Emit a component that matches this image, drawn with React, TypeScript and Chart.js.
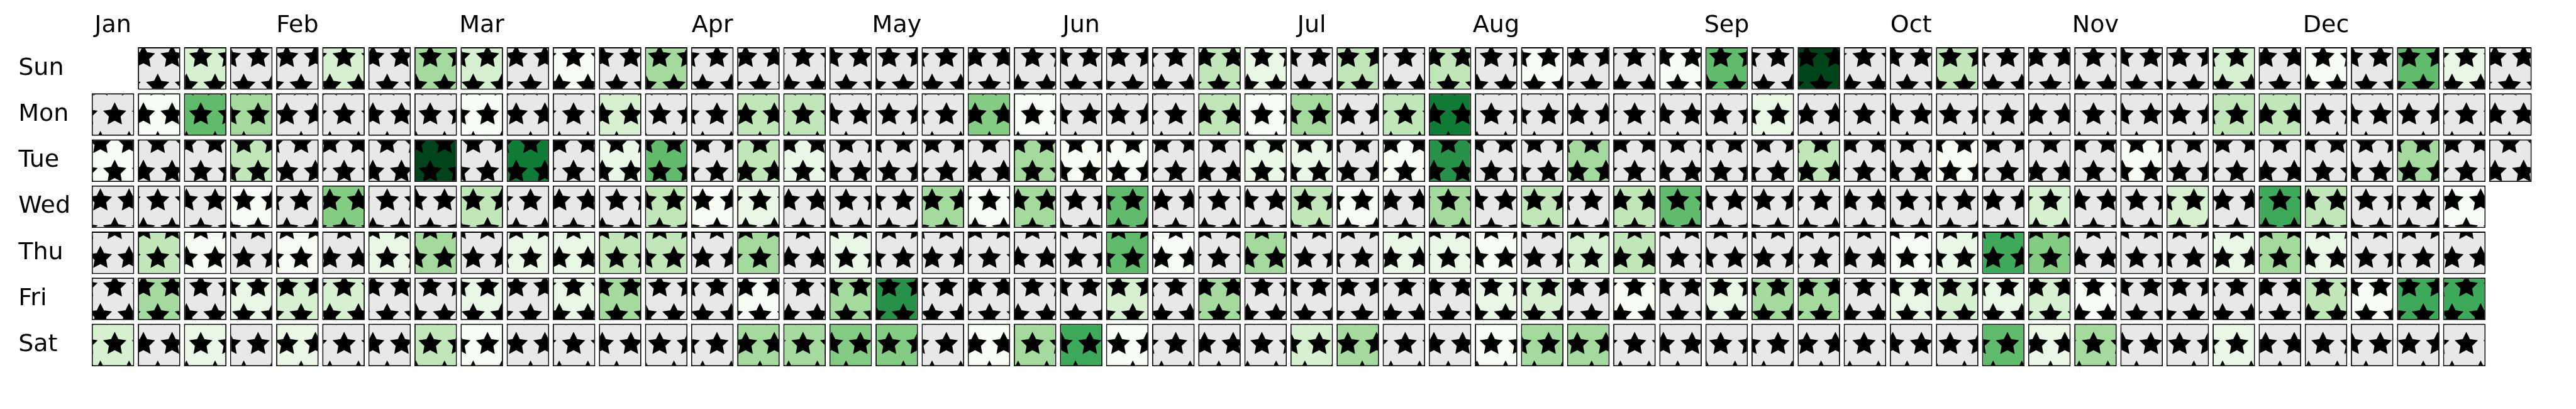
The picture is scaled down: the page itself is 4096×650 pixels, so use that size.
import React, { useEffect, useRef } from 'react';
import { Chart, registerables } from 'chart.js';

Chart.register(...registerables);

// ---------------- data ----------------
const YEAR = 2024;
const DAYS = ['Sun', 'Mon', 'Tue', 'Wed', 'Thu', 'Fri', 'Sat'];
const MONTHS = ['Jan', 'Feb', 'Mar', 'Apr', 'May', 'Jun', 'Jul', 'Aug', 'Sep', 'Oct', 'Nov', 'Dec'];

// One entry per week column (53). null = day outside the year, 0 = no value (grey cell)
const SUN = [null, 0, 3, 0, 0, 3, 0, 5, 3, 0, 1, 0, 5, 0, 0, 0, 0, 0, 0, 0, 0, 0, 0, 0, 4, 2, 0, 4, 0, 4, 0, 1, 0, 0, 1, 7, 0, 12, 0, 0, 4, 0, 0, 0, 0, 0, 3, 0, 1, 0, 7, 2, 0];
const MON = [0, 1, 7, 5, 0, 0, 0, 0, 1, 0, 0, 3, 0, 0, 4, 4, 0, 0, 0, 6, 1, 0, 0, 0, 4, 1, 5, 0, 4, 10, 0, 0, 0, 0, 0, 0, 2, 0, 0, 0, 0, 0, 0, 0, 0, 0, 4, 4, 0, 0, 0, 0, 0];
const TUE = [1, 0, 0, 4, 0, 0, 0, 12, 0, 10, 0, 2, 7, 0, 4, 2, 0, 0, 0, 0, 5, 1, 1, 0, 0, 2, 2, 0, 1, 9, 0, 0, 5, 0, 0, 0, 0, 4, 0, 0, 1, 0, 0, 0, 1, 0, 0, 0, 0, 0, 5, 0, 0];
const WED = [0, 0, 0, 1, 0, 6, 0, 0, 4, 0, 0, 0, 4, 1, 2, 0, 0, 0, 5, 1, 5, 0, 7, 0, 0, 0, 4, 1, 0, 5, 0, 4, 0, 4, 7, 0, 0, 0, 0, 0, 0, 0, 3, 0, 0, 3, 0, 8, 4, 0, 0, 1, null];
const THU = [0, 4, 1, 0, 1, 0, 2, 5, 0, 2, 2, 4, 4, 0, 5, 0, 2, 0, 0, 0, 0, 0, 7, 1, 0, 5, 0, 0, 2, 2, 1, 0, 3, 4, 0, 0, 0, 0, 0, 1, 2, 8, 6, 0, 0, 0, 2, 5, 2, 0, 0, 0, null];
const FRI = [0, 5, 0, 2, 3, 3, 0, 0, 2, 0, 2, 5, 0, 0, 1, 0, 5, 9, 0, 0, 0, 0, 3, 0, 5, 0, 0, 0, 0, 0, 2, 3, 0, 1, 0, 2, 5, 5, 0, 2, 3, 2, 3, 1, 0, 0, 0, 0, 4, 1, 8, 8, null];
const SAT = [3, 0, 2, 0, 2, 0, 0, 4, 1, 0, 0, 0, 0, 0, 5, 5, 6, 6, 0, 1, 5, 8, 1, 0, 0, 0, 3, 5, 0, 0, 1, 5, 5, 0, 0, 0, 0, 0, 0, 0, 0, 7, 2, 5, 0, 0, 2, 0, 0, 0, 0, 0, null];
const ROWS = [SUN, MON, TUE, WED, THU, FRI, SAT];

const VMIN = 1;
const VMAX = 12;

// ---------------- style ----------------
const S = 0.912;
const FONT = { family: 'DejaVu Sans', size: 41.67 * S };
const EMPTY = '#e8e8e8';
const GREENS = ['#f7fcf5', '#e5f5e0', '#c7e9c0', '#a1d99b', '#74c476', '#41ab5d', '#238b45', '#006d2c', '#00441b'];
const GAP = 0.0393;

function hexToRgb(h: string) {
  return [parseInt(h.slice(1, 3), 16), parseInt(h.slice(3, 5), 16), parseInt(h.slice(5, 7), 16)];
}

function greens(t: number) {
  const x = Math.max(0, Math.min(1, t)) * (GREENS.length - 1);
  const i = Math.min(GREENS.length - 2, Math.floor(x));
  const f = x - i;
  const a = hexToRgb(GREENS[i]);
  const b = hexToRgb(GREENS[i + 1]);
  const c = a.map((v, k) => Math.round(v + (b[k] - v) * f));
  return `rgb(${c[0]},${c[1]},${c[2]})`;
}

function colorFor(v: number) {
  if (v === 0) return EMPTY;
  return greens((v - VMIN) / (VMAX - VMIN));
}

// star hatch (matplotlib '*' hatch at 300 dpi, scaled)
const STEP = 50 * S; // star spacing
const TILE_W = Math.round(STEP * 10);
const TILE_H = Math.round(STEP * 20);
const ROW_PHASE = 45.14; // y of first (offset) star row
const R_OUT = (300 / 18) * S;
const LW = (300 / 72) * S;

function drawStar(g: CanvasRenderingContext2D, cx: number, cy: number) {
  g.beginPath();
  for (let k = 0; k < 10; k++) {
    const a = Math.PI / 2 + (k * Math.PI) / 5;
    const rad = k % 2 === 0 ? R_OUT : R_OUT * 0.5;
    const x = cx + rad * Math.cos(a);
    const y = cy - rad * Math.sin(a);
    if (k === 0) g.moveTo(x, y);
    else g.lineTo(x, y);
  }
  g.closePath();
  g.fill();
  g.stroke();
}

function makePattern(ctx: CanvasRenderingContext2D, color: string) {
  const c = document.createElement('canvas');
  c.width = TILE_W;
  c.height = TILE_H;
  const g = c.getContext('2d')!;
  g.fillStyle = color;
  g.fillRect(0, 0, TILE_W, TILE_H);
  g.fillStyle = '#000';
  g.strokeStyle = '#000';
  g.lineWidth = LW;
  g.lineJoin = 'miter';
  for (let k = -2; k <= 22; k++) {
    const y = ROW_PHASE + k * STEP;
    const xoff = ((k % 2) + 2) % 2 === 0 ? STEP / 2 : 0;
    for (let i = -2; i <= 12; i++) drawStar(g, xoff + i * STEP, y);
  }
  return ctx.createPattern(c, 'repeat')!;
}

export default function App() {
  const ref = useRef<HTMLCanvasElement>(null);

  useEffect(() => {
    const canvas = ref.current!;
    const ctx = canvas.getContext('2d')!;
    const cache = new Map<string, CanvasPattern>();
    const patternFor = (v: number) => {
      const col = colorFor(v);
      if (!cache.has(col)) cache.set(col, makePattern(ctx, col));
      return cache.get(col)!;
    };

    const nWeeks = SUN.length;
    const jan1 = new Date(YEAR, 0, 1).getDay();
    const labels: string[] = Array.from({ length: nWeeks }, () => '');
    MONTHS.forEach((m, i) => {
      const doy = Math.round((Date.UTC(YEAR, i, 1) - Date.UTC(YEAR, 0, 1)) / 864e5);
      labels[Math.floor((doy + jan1) / 7)] = m;
    });

    const datasets = ROWS.map((row, r) => ({
      label: DAYS[r],
      data: row.map((v) => (v === null ? null : [r + GAP, r + 1 - GAP])),
      backgroundColor: row.map((v) => (v === null ? 'rgba(0,0,0,0)' : patternFor(v))),
      borderColor: '#000',
      borderWidth: 2 * S,
      borderSkipped: false as const,
      grouped: false,
      barPercentage: 0.921,
      categoryPercentage: 1,
    }));

    const chart = new Chart(canvas, {
      type: 'bar',
      data: { labels, datasets: datasets as any },
      options: {
        animation: false,
        responsive: false,
        devicePixelRatio: 1,
        layout: { padding: { left: 32 * S, right: 67.6, top: 0, bottom: 65 } },
        plugins: { legend: { display: false }, tooltip: { enabled: false } },
        scales: {
          x: {
            position: 'top',
            offset: true,
            grid: { display: false, drawTicks: false },
            border: { display: false },
            ticks: { autoSkip: false, maxRotation: 0, minRotation: 0, padding: 8.4, color: '#000', font: FONT },
            afterFit: (axis: any) => {
              axis.height = 72.2;
            },
          },
          y: {
            type: 'linear',
            reverse: true,
            min: 0,
            max: 7,
            grid: { display: false, drawTicks: false },
            border: { display: false },
            afterBuildTicks: (axis: any) => {
              axis.ticks = DAYS.map((_, i) => ({ value: i + 0.5 }));
            },
            ticks: {
              crossAlign: 'far',
              color: '#000',
              font: FONT,
              callback: (_v: any, i: number) => DAYS[i],
            },
            afterFit: (axis: any) => {
              axis.width = 142.97 - 32 * S;
            },
          },
        },
      } as any,
    });
    return () => chart.destroy();
  }, []);

  return (
    <div style={{ position: 'fixed', left: 0, top: 0, width: 4096, height: 650, background: '#fff' }}>
      <canvas ref={ref} width={4096} height={650} />
    </div>
  );
}
